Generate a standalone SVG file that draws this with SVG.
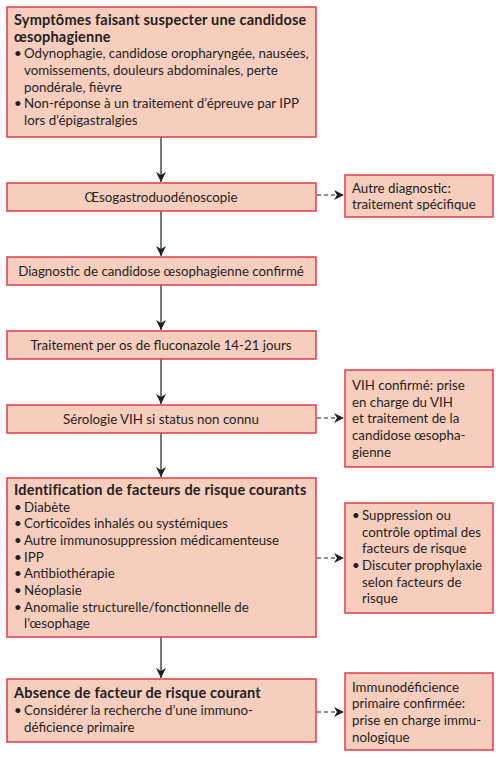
<svg xmlns="http://www.w3.org/2000/svg" width="500" height="758" viewBox="0 0 500 758">
<defs>
<style>
.box{fill:#F7CDBE;stroke:#E23B4C;stroke-width:1.5}
text{font-family:Lato,"Liberation Sans",sans-serif;font-size:13.3px;fill:#231F20}
.b{font-weight:bold;font-size:14.5px;letter-spacing:0.2px}
.c{text-anchor:middle}
.ln{stroke:#231F20;stroke-width:1.2;fill:none}
.d{stroke-dasharray:4,3}
</style>
<marker id="ah" viewBox="0 0 10 10" refX="10" refY="5" markerWidth="10" markerHeight="10" markerUnits="userSpaceOnUse" orient="auto">
<path d="M0,0 L10,5 L0,10 L3,5 Z" fill="#231F20"/>
</marker>
</defs>
<rect width="500" height="758" fill="#fff"/>
<g id="connectors">
<line class="ln" x1="161" y1="137" x2="161" y2="182" marker-end="url(#ah)"/>
<line class="ln" x1="161" y1="211" x2="161" y2="256" marker-end="url(#ah)"/>
<line class="ln" x1="161" y1="285" x2="161" y2="330" marker-end="url(#ah)"/>
<line class="ln" x1="161" y1="359" x2="161" y2="404" marker-end="url(#ah)"/>
<line class="ln" x1="161" y1="433" x2="161" y2="477" marker-end="url(#ah)"/>
<line class="ln" x1="161" y1="637" x2="161" y2="678" marker-end="url(#ah)"/>
<line class="ln d" x1="317" y1="195" x2="344" y2="195" marker-end="url(#ah)"/>
<line class="ln d" x1="317" y1="418" x2="344" y2="418" marker-end="url(#ah)"/>
<line class="ln d" x1="317" y1="558" x2="344" y2="558" marker-end="url(#ah)"/>
<line class="ln d" x1="317" y1="712" x2="344" y2="712" marker-end="url(#ah)"/>
</g>
<g id="n1">
<rect class="box" x="7" y="7" width="309" height="130"/>
<text class="b" x="14" y="25">Symptômes faisant suspecter une candidose</text>
<text class="b" x="14" y="42">œsophagienne</text>
<text x="14" y="58">•</text><text x="24" y="58">Odynophagie, candidose oropharyngée, nausées,</text>
<text x="24" y="75">vomissements, douleurs abdominales, perte</text>
<text x="24" y="92">pondérale, fièvre</text>
<text x="14" y="108">•</text><text x="24" y="108">Non-réponse à un traitement d’épreuve par IPP</text>
<text x="24" y="125">lors d’épigastralgies</text>
</g>
<g id="n2">
<rect class="box" x="7" y="183" width="309" height="28"/>
<text class="c" x="161" y="202">Œsogastroduodénoscopie</text>
</g>
<g id="n3">
<rect class="box" x="345" y="175" width="148" height="42"/>
<text x="352" y="193">Autre diagnostic:</text>
<text x="352" y="209">traitement spécifique</text>
</g>
<g id="n4">
<rect class="box" x="7" y="257" width="309" height="28"/>
<text class="c" x="161" y="276">Diagnostic de candidose œsophagienne confirmé</text>
</g>
<g id="n5">
<rect class="box" x="7" y="331" width="309" height="28"/>
<text class="c" x="161" y="350">Traitement per os de fluconazole 14-21 jours</text>
</g>
<g id="n6">
<rect class="box" x="7" y="405" width="309" height="28"/>
<text class="c" x="161" y="424">Sérologie VIH si status non connu</text>
</g>
<g id="n7">
<rect class="box" x="345" y="370" width="148" height="97"/>
<text x="352" y="390">VIH confirmé: prise</text>
<text x="352" y="407">en charge du VIH</text>
<text x="352" y="423">et traitement de la</text>
<text x="352" y="440">candidose œsopha-</text>
<text x="352" y="457">gienne</text>
</g>
<g id="n8">
<rect class="box" x="7" y="478" width="309" height="159"/>
<text class="b" x="14" y="495">Identification de facteurs de risque courants</text>
<text x="14" y="512">•</text><text x="24" y="512">Diabète</text>
<text x="14" y="528">•</text><text x="24" y="528">Corticoïdes inhalés ou systémiques</text>
<text x="14" y="545">•</text><text x="24" y="545">Autre immunosuppression médicamenteuse</text>
<text x="14" y="562">•</text><text x="24" y="562">IPP</text>
<text x="14" y="578">•</text><text x="24" y="578">Antibiothérapie</text>
<text x="14" y="595">•</text><text x="24" y="595">Néoplasie</text>
<text x="14" y="612">•</text><text x="24" y="612">Anomalie structurelle/fonctionnelle de</text>
<text x="24" y="628">l’œsophage</text>
</g>
<g id="n9">
<rect class="box" x="345" y="503" width="148" height="110"/>
<text x="352" y="520">•</text><text x="362" y="520">Suppression ou</text>
<text x="362" y="537">contrôle optimal des</text>
<text x="362" y="553">facteurs de risque</text>
<text x="352" y="570">•</text><text x="362" y="570">Discuter prophylaxie</text>
<text x="362" y="587">selon facteurs de</text>
<text x="362" y="603">risque</text>
</g>
<g id="n10">
<rect class="box" x="7" y="679" width="309" height="63"/>
<text class="b" x="14" y="698">Absence de facteur de risque courant</text>
<text x="14" y="715">•</text><text x="24" y="715">Considérer la recherche d’une immuno-</text>
<text x="24" y="732">déficience primaire</text>
</g>
<g id="n11">
<rect class="box" x="345" y="673" width="148" height="77"/>
<text x="352" y="692">Immunodéficience</text>
<text x="352" y="708">primaire confirmée:</text>
<text x="352" y="725">prise en charge immu-</text>
<text x="352" y="742">nologique</text>
</g>
</svg>
